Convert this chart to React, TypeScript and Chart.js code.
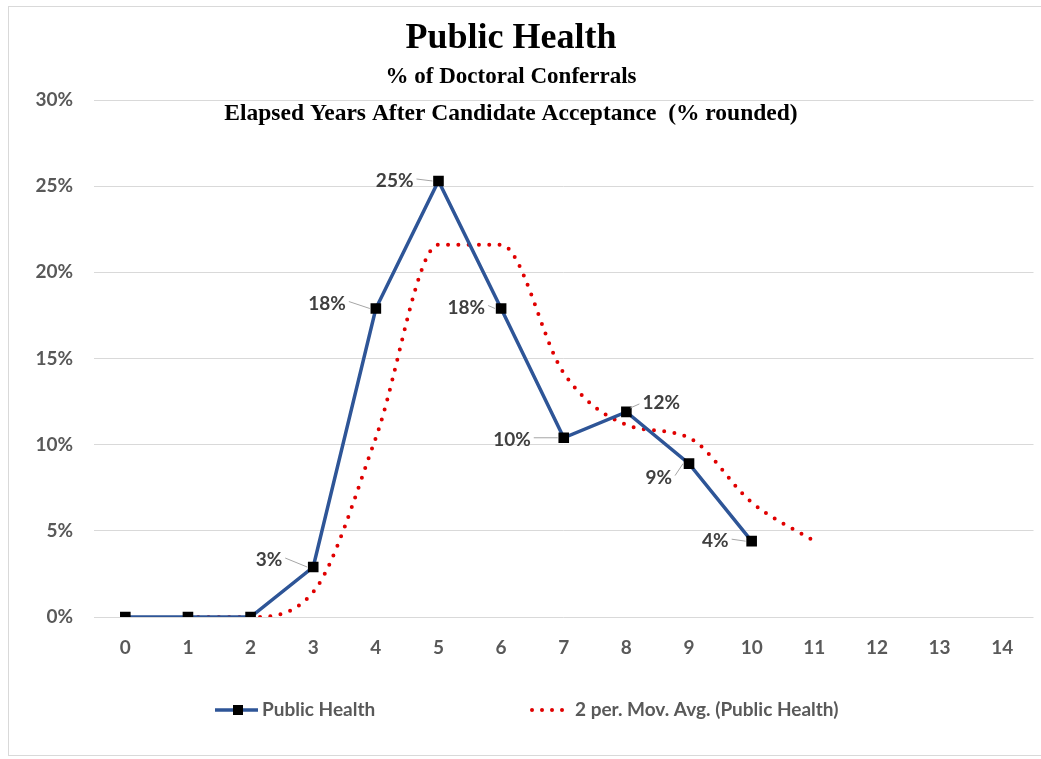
import React, { useEffect, useRef } from "react";
import { Chart, registerables } from "chart.js";

Chart.register(...registerables);

const categories = ["0","1","2","3","4","5","6","7","8","9","10","11","12","13","14"];
const publicHealth = [0, 0, 0, 2.9, 17.9, 25.3, 17.9, 10.4, 11.9, 8.9, 4.4, null, null, null, null];
const movingAvg = [null, 0, 0, 1.45, 10.4, 21.6, 21.6, 14.15, 11.15, 10.4, 6.65, 4.4, null, null, null];
const yTickMin = 0;
const yTickMax = 30;
const yTickStep = 5;

const titleLines = [
  "Public Health",
  "% of Doctoral Conferrals",
  "Elapsed Years After Candidate Acceptance  (% rounded)",
];
const legendLabels = ["Public Health", "2 per. Mov. Avg. (Public Health)"];

// label placement relative to point (pixels)
const labelPlacements = [
  { index: 3, dx: -31, dy: -7, align: "right" },
  { index: 4, dx: -30, dy: -5, align: "right" },
  { index: 5, dx: -25, dy: 0, align: "right" },
  { index: 6, dx: -16, dy: -1, align: "right" },
  { index: 7, dx: -33, dy: 2, align: "right" },
  { index: 8, dx: 16, dy: -9, align: "left" },
  { index: 9, dx: -17, dy: 14, align: "right" },
  { index: 10, dx: -23, dy: 0, align: "right" },
];

const BLUE = "#2e5597";
const RED = "#e00000";
const GRAY = "#595959";
const LABEL_FONT = "bold 19px Lato";

const decorPlugin = {
  id: "decor",
  afterDatasetsDraw(chart: any) {
    const ctx = chart.ctx;
    const meta = chart.getDatasetMeta(0);
    ctx.save();
    ctx.font = LABEL_FONT;
    ctx.textBaseline = "middle";
    for (const p of labelPlacements) {
      const el = meta.data[p.index];
      const v = publicHealth[p.index];
      if (!el || v == null) continue;
      const x = el.x + p.dx;
      const y = el.y + p.dy;
      const text = Math.round(v as number) + "%";
      ctx.textAlign = p.align;
      ctx.fillStyle = "#404040";
      ctx.fillText(text, x, y);
      ctx.strokeStyle = "#a6a6a6";
      ctx.lineWidth = 1;
      ctx.beginPath();
      if (p.align === "right") {
        ctx.moveTo(x + 3, y - 2);
        ctx.lineTo(el.x - 6, el.y);
      } else {
        ctx.moveTo(x - 3, y + 1);
        ctx.lineTo(el.x + 4, el.y - 4);
      }
      ctx.stroke();
    }
    ctx.restore();
  },
  afterDraw(chart: any) {
    const ctx = chart.ctx;
    ctx.save();
    ctx.fillStyle = "#000000";
    ctx.textAlign = "center";
    ctx.textBaseline = "alphabetic";
    ctx.font = "bold 36px 'Liberation Serif'";
    ctx.fillText(titleLines[0], 502, 41);
    ctx.font = "bold 23px 'Liberation Serif'";
    ctx.fillText(titleLines[1], 502, 76);
    ctx.font = "bold 23.5px 'Liberation Serif'";
    ctx.fillText(titleLines[2], 502, 113);

    const ly = 703;
    ctx.strokeStyle = BLUE;
    ctx.lineWidth = 3.5;
    ctx.beginPath();
    ctx.moveTo(206, ly);
    ctx.lineTo(249, ly);
    ctx.stroke();
    ctx.fillStyle = "#000000";
    ctx.fillRect(224, ly - 5, 10, 10);
    ctx.font = LABEL_FONT;
    ctx.fillStyle = GRAY;
    ctx.textAlign = "left";
    ctx.textBaseline = "middle";
    ctx.fillText(legendLabels[0], 253, ly);

    ctx.fillStyle = RED;
    for (let i = 0; i < 4; i++) {
      ctx.beginPath();
      ctx.arc(523 + i * 10, ly, 2, 0, Math.PI * 2);
      ctx.fill();
    }
    ctx.fillStyle = GRAY;
    ctx.fillText(legendLabels[1], 566, ly);
    ctx.restore();
  },
};

export default function App() {
  const ref = useRef<HTMLCanvasElement | null>(null);
  useEffect(() => {
    if (!ref.current) return;
    const chart = new Chart(ref.current, {
      type: "line",
      data: {
        labels: categories,
        datasets: [
          {
            label: legendLabels[0],
            data: publicHealth,
            borderColor: BLUE,
            borderWidth: 3.5,
            backgroundColor: "#000000",
            pointStyle: "rect",
            pointRadius: 7.5,
            pointBorderColor: "#000000",
            pointBackgroundColor: "#000000",
            pointBorderWidth: 0,
            tension: 0,
            order: 1,
          },
          {
            label: legendLabels[1],
            data: movingAvg,
            borderColor: RED,
            borderWidth: 4,
            borderDash: [0, 10.3],
            borderCapStyle: "round",
            pointRadius: 0,
            cubicInterpolationMode: "monotone",
            order: 2,
          },
        ],
      },
      options: {
        responsive: false,
        animation: false,
        devicePixelRatio: 1,
        layout: { padding: { top: 93, right: 3, left: 0, bottom: 0 } },
        plugins: {
          legend: { display: false },
          title: { display: false },
          tooltip: { enabled: false },
        },
        scales: {
          x: {
            type: "category",
            offset: true,
            grid: { display: false, drawTicks: false },
            border: { display: false },
            ticks: {
              color: GRAY,
              font: { family: "Lato", size: 19, weight: "bold" },
              padding: 19,
              autoSkip: false,
              maxRotation: 0,
            },
            afterFit: (s: any) => {
              s.height = 138;
            },
          },
          y: {
            min: yTickMin,
            max: yTickMax,
            grid: { color: "#d9d9d9", lineWidth: 1, drawTicks: false },
            border: { display: false },
            ticks: {
              stepSize: yTickStep,
              color: GRAY,
              font: { family: "Lato", size: 19, weight: "bold" },
              padding: 21,
              callback: (v: any) => v + "%",
            },
            afterFit: (s: any) => {
              s.width = 85;
            },
          },
        },
      },
      plugins: [decorPlugin],
    } as any);
    return () => chart.destroy();
  }, []);

  return (
    <div
      style={{
        position: "absolute",
        left: 8,
        top: 6,
        width: 1033,
        height: 750,
        boxSizing: "border-box",
        borderLeft: "1px solid #d9d9d9",
        borderTop: "1px solid #d9d9d9",
        borderBottom: "1px solid #d9d9d9",
        background: "#ffffff",
      }}
    >
      <canvas ref={ref} width={1032} height={748} style={{ display: "block" }} />
    </div>
  );
}
